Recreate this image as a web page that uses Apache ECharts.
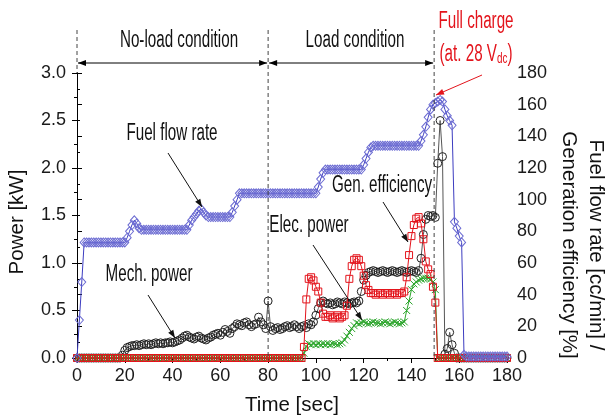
<!DOCTYPE html>
<html><head><meta charset="utf-8">
<script src="https://cdn.jsdelivr.net/npm/echarts@6/dist/echarts.min.js"></script>
<style>html,body{margin:0;padding:0;background:#fff}#c{width:605px;height:419px}</style>
</head><body><div id="c"></div>
<script>
// ---- data (1-second samples) ----
const time = [
  0,1,2,3,4,5,6,7,8,9, 10,11,12,13,14,15,16,17,18,19,
  20,21,22,23,24,25,26,27,28,29, 30,31,32,33,34,35,36,37,38,39,
  40,41,42,43,44,45,46,47,48,49, 50,51,52,53,54,55,56,57,58,59,
  60,61,62,63,64,65,66,67,68,69, 70,71,72,73,74,75,76,77,78,79,
  80,81,82,83,84,85,86,87,88,89, 90,91,92,93,94,95,96,97,98,99,
  100,101,102,103,104,105,106,107,108,109, 110,111,112,113,114,115,116,117,118,119,
  120,121,122,123,124,125,126,127,128,129, 130,131,132,133,134,135,136,137,138,139,
  140,141,142,143,144,145,146,147,148,149, 150,151,152,153,154,155,156,157,158,159,
  160,161,162,163,164,165,166,167,168,169, 170,171,172,173,174,175,176,177,178,179,
  180
];
// Fuel flow rate [cc/min] (right axis)
const fuelFlow = [
  0,24,48,73,73,73,73,73,73,73, 73,73,73,73,73,73,73,73,73,73,
  73,76,80,84,87,85,82,81,81,81, 81,81,81,81,81,81,81,81,81,81,
  81,81,81,81,81,81,81,84,87,89, 91,93,94,92,90,89,89,89,89,89,
  89,89,89,89,89,92,96,100,104,104, 104,104,104,104,104,104,104,104,104,104,
  104,104,104,104,104,104,104,104,104,104, 104,104,104,104,104,104,104,104,104,104,
  104,108,113,117,119,119,119,119,119,119, 119,119,119,119,119,119,119,119,119,119,
  122,126,130,133,134,134,134,134,134,134, 134,134,134,134,134,134,134,134,134,134,
  134,134,134,134,137,141,146,152,157,160, 161,162,163,162,157,153,150,147,86,82,
  77,73,2,1,1,1,1,1,1,1, 1,1,1,1,1,1,1,1,1,1,
  1
];
// Mech. power [kW] (left axis)
const mechPower = [
  0,0,0,0,0,0,0,0,0,0, 0,0,0,0,0,0,0,0,0,0.03,
  0.08,0.11,0.12,0.13,0.13,0.14,0.13,0.14,0.15,0.14, 0.15,0.14,0.15,0.16,0.15,0.16,0.15,0.16,0.16,0.17,
  0.16,0.17,0.18,0.19,0.21,0.23,0.24,0.22,0.21,0.2, 0.22,0.23,0.21,0.2,0.19,0.21,0.22,0.24,0.25,0.26,
  0.24,0.27,0.3,0.28,0.26,0.31,0.33,0.36,0.35,0.34, 0.37,0.38,0.35,0.33,0.35,0.36,0.43,0.38,0.35,0.31,
  0.6,0.33,0.29,0.31,0.32,0.3,0.31,0.33,0.34,0.32, 0.33,0.35,0.33,0.31,0.33,0.34,0.32,0.36,0.35,0.38,
  0.45,0.52,0.58,0.6,0.58,0.57,0.58,0.56,0.57,0.59, 0.58,0.57,0.59,0.58,0.57,0.58,0.59,0.58,0.6,0.7,
  0.82,0.87,0.9,0.91,0.92,0.91,0.9,0.91,0.92,0.91, 0.9,0.91,0.92,0.91,0.9,0.91,0.92,0.91,0.9,0.91,
  0.92,0.91,0.9,0.92,1.05,1.3,1.46,1.5,1.49,1.5, 1.48,2.05,2.5,2.12,0.04,0.1,0.27,0.14,0.05,0,
  0,0,0,0,0,0,0,0,0,0, 0,0,0,0,0,0,0,0,0,0,
  0
];
// Elec. power [kW] (left axis)
const elecPower = [
  0,0,0,0,0,0,0,0,0,0, 0,0,0,0,0,0,0,0,0,0,
  0,0,0,0,0,0,0,0,0,0, 0,0,0,0,0,0,0,0,0,0,
  0,0,0,0,0,0,0,0,0,0, 0,0,0,0,0,0,0,0,0,0,
  0,0,0,0,0,0,0,0,0,0, 0,0,0,0,0,0,0,0,0,0,
  0,0,0,0,0,0,0,0,0,0, 0,0,0,0,0,0.05,0.12,0.15,0.14,0.15,
  0.14,0.15,0.14,0.15,0.14,0.15,0.14,0.15,0.15,0.14, 0.15,0.16,0.19,0.23,0.27,0.31,0.34,0.37,0.36,0.37,
  0.38,0.37,0.36,0.37,0.38,0.37,0.37,0.36,0.37,0.38, 0.37,0.36,0.37,0.38,0.37,0.36,0.37,0.38,0.5,0.6,
  0.72,0.78,0.8,0.82,0.83,0.84,0.84,0.84,0.83,0.8, 0.72,0,0,0,0,0,0,0,0,0,
  0,0,0,0,0,0,0,0,0,0, 0,0,0,0,0,0,0,0,0,0,
  0
];
// Generation efficiency [%] (right axis)
const genEfficiency = [
  0,0,0,0,0,0,0,0,0,0, 0,0,0,0,0,0,0,0,0,0,
  0,0,0,0,0,0,0,0,0,0, 0,0,0,0,0,0,0,0,0,0,
  0,0,0,0,0,0,0,0,0,0, 0,0,0,0,0,0,0,0,0,0,
  0,0,0,0,0,0,0,0,0,0, 0,0,0,0,0,0,0,0,0,0,
  0,0,0,0,0,0,0,0,0,0, 0,0,0,0,0,7,37,50,51,49,
  45,42,35,28,26,26,27,25,26,27, 25,26,27,33,50,58,62,63,62,58,
  52,46,43,41,41,40,41,41,40,41, 41,40,41,41,40,41,41,42,51,65,
  77,84,88,89,85,75,61,56,53,45, 35,0,0,0,0,0,0,0,0,0,
  0,0,0,0,0,0,0,0,0,0, 0,0,0,0,0,0,0,0,0,0,
  0
];
const phaseBounds = [0, 80, 149.5];   // dashed condition boundaries [sec]

const FONT = 'Liberation Sans, Arial, sans-serif';
const pair = arr => time.map((t, i) => [t, arr[i]]);

const chart = echarts.init(document.getElementById('c'), null, {renderer: 'canvas'});

const axisCommon = {
  axisLine: {show: true, lineStyle: {color: '#000', width: 1}},
  axisTick: {show: true, length: 5, lineStyle: {color: '#000'}},
  minorTick: {show: true, splitNumber: 2, length: 3, lineStyle: {color: '#000'}},
  splitLine: {show: false},
  minorSplitLine: {show: false},
  axisLabel: {fontFamily: FONT, fontSize: 18, color: '#1a1a1a'}
};

chart.setOption({
  animation: false,
  backgroundColor: '#fff',
  grid: {left: 77, right: 98, top: 73, bottom: 61, containLabel: false},
  xAxis: [
    Object.assign({}, axisCommon, {type: 'value', min: 0, max: 180, interval: 20, position: 'bottom',
      axisLabel: Object.assign({}, axisCommon.axisLabel, {margin: 9})}),
    Object.assign({}, axisCommon, {type: 'value', min: 0, max: 180, interval: 20, position: 'top',
      axisTick: {show: true, inside: true, length: 5, lineStyle: {color: '#000'}},
      axisLabel: {show: false}})
  ],
  yAxis: [
    Object.assign({}, axisCommon, {type: 'value', min: 0, max: 3, interval: 0.5, position: 'left',
      axisLabel: Object.assign({}, axisCommon.axisLabel, {margin: 11, formatter: v => v.toFixed(1)})}),
    Object.assign({}, axisCommon, {type: 'value', min: 0, max: 180, interval: 20, position: 'right',
      axisLabel: Object.assign({}, axisCommon.axisLabel, {margin: 10})})
  ],
  series: [
    {name: 'Mech. power', type: 'line', xAxisIndex: 0, yAxisIndex: 0, data: pair(mechPower),
      symbol: 'circle', symbolSize: 8,
      itemStyle: {color: 'rgba(255,255,255,0)', borderColor: '#222', borderWidth: 1},
      lineStyle: {color: '#555', width: 1}, emphasis: {disabled: true}, z: 2},
    {name: 'Elec. power', type: 'line', xAxisIndex: 0, yAxisIndex: 0, data: pair(elecPower),
      symbol: 'path://M0,0L10,10M10,0L0,10', symbolSize: 7,
      itemStyle: {color: 'rgba(255,255,255,0)', borderColor: '#2aa52a', borderWidth: 1},
      lineStyle: {color: '#2aa52a', width: 1}, emphasis: {disabled: true}, z: 3},
    {name: 'Generation efficiency', type: 'line', xAxisIndex: 0, yAxisIndex: 1, data: pair(genEfficiency),
      symbol: 'rect', symbolSize: 7,
      itemStyle: {color: 'rgba(255,255,255,0)', borderColor: '#e3141c', borderWidth: 1},
      lineStyle: {color: '#e3141c', width: 1}, emphasis: {disabled: true}, z: 4},
    {name: 'Fuel flow rate', type: 'line', xAxisIndex: 0, yAxisIndex: 1, data: pair(fuelFlow),
      symbol: 'diamond', symbolSize: [8, 9],
      itemStyle: {color: 'rgba(255,255,255,0)', borderColor: '#6b6bd2', borderWidth: 1},
      lineStyle: {color: '#3c3cc0', width: 1}, emphasis: {disabled: true}, z: 5}
  ]
});

// ---- annotations ----
const px = t => chart.convertToPixel({xAxisIndex: 0}, t);
const yTop = chart.convertToPixel({yAxisIndex: 0}, 3);
const yBot = chart.convertToPixel({yAxisIndex: 0}, 0);

function head(x1, y1, x2, y2, color, L, W) {
  const a = Math.atan2(y2 - y1, x2 - x1);
  const bx = x2 - L * Math.cos(a), by = y2 - L * Math.sin(a);
  return {type: 'polygon', z: 50, shape: {points: [[x2, y2],
    [bx + W * Math.sin(a), by - W * Math.cos(a)], [bx - W * Math.sin(a), by + W * Math.cos(a)]]},
    style: {fill: color}};
}
function arrow(x1, y1, x2, y2, color, both) {
  const els = [{type: 'line', z: 50, shape: {x1, y1, x2, y2}, style: {stroke: color, lineWidth: 1}}];
  els.push(head(x1, y1, x2, y2, color, 8, 3));
  if (both) els.push(head(x2, y2, x1, y1, color, 8, 3));
  return els;
}
function label(text, x, y, color, extra) {
  return Object.assign({type: 'text', z: 50, x, y, scaleX: 0.66,
    style: {text, fontFamily: FONT, fontSize: 23, fill: color || '#111',
      align: 'center', verticalAlign: 'middle', textAlign: 'center', textVerticalAlign: 'middle'}}, extra || {});
}

const g = [];
const dashTop = 30, arrowY = 63;
phaseBounds.forEach((t, i) => {
  const x = px(t);
  g.push({type: 'line', z: 40, shape: {x1: x, y1: dashTop, x2: x, y2: i === 0 ? yTop : yBot},
    style: {stroke: '#444', lineWidth: 1, lineDash: [4, 3]}});
});
g.push(...arrow(px(phaseBounds[0]) + 1, arrowY, px(phaseBounds[1]) - 1, arrowY, '#000', true));
g.push(...arrow(px(phaseBounds[1]) + 1, arrowY, px(phaseBounds[2]) - 1, arrowY, '#000', true));
g.push(label('No-load condition', 179, 41));
g.push(label('Load condition', 355, 41));

const red = '#e3141c';
g.push(label('Full charge', 476, 22, red));
const sub = label('(at. 28 V{s|dc})', 476, 55, red);
sub.style.rich = {s: {fontFamily: FONT, fontSize: 15, fill: red, verticalAlign: 'bottom'}};
g.push(sub);
g.push(...arrow(482, 75, 436, 95, red, false));

g.push(label('Fuel flow rate', 172, 134));
g.push(...arrow(168, 153, 202, 207, '#111', false));
g.push(label('Mech. power', 149, 275));
g.push(...arrow(148, 295, 175, 338, '#111', false));
g.push(label('Elec. power', 309, 226));
g.push(...arrow(313, 245, 362, 320, '#111', false));
g.push(label('Gen. efficiency', 382, 186));
g.push(...arrow(383, 202, 408, 242, '#111', false));

// axis titles
const title = (text, x, y, rot) => ({type: 'text', z: 50, x, y, rotation: rot,
  style: {text, fontFamily: FONT, fontSize: 20.5, fill: '#111',
    align: 'center', verticalAlign: 'middle', textAlign: 'center', textVerticalAlign: 'middle'}});
g.push(title('Time [sec]', 292, 405, 0));
g.push(title('Power [kW]', 17, 222, Math.PI / 2));
g.push(title('Fuel flow rate [cc/min] /', 596, 245, -Math.PI / 2));
g.push(title('Generation efficiency [%]', 569, 245, -Math.PI / 2));

chart.setOption({graphic: {elements: g}});
</script>
</body></html>
